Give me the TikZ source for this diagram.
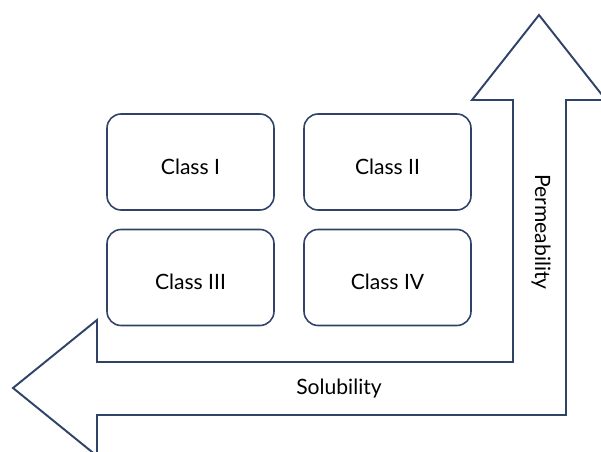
\documentclass[tikz,border=0pt]{standalone}
\usepackage{fontspec}
\setmainfont{Lato}
\definecolor{rahmen}{HTML}{2F4268}
\begin{document}
\begin{tikzpicture}[x=0.02cm, y=-0.02cm,
	klasse/.style={draw=rahmen, line width=0.9pt, rounded corners=8pt, minimum width=3.34cm, minimum height=1.92cm, text height=14pt, text depth=0pt, font=\fontsize{12}{14}\selectfont},
	schrift/.style={font=\fontsize{12}{14}\selectfont}]
	\useasboundingbox (0,0) rectangle (601,452);
	\clip (0,0) rectangle (601,452);
	% Winkelpfeil
	\draw[rahmen, line width=1.1pt, line join=miter] (13,388) -- (97,320) -- (97,362) -- (513,362) -- (513,100) -- (472,100) -- (539,15) -- (606,100) -- (566,100) -- (566,415) -- (97,415) -- (97,456) -- cycle;
	% Klassen
	\node[klasse] (k1) at (190.5,162) {Class I};
	\node[klasse] (k2) at (387.5,162) {Class II};
	\node[klasse] (k3) at (190.5,277.5) {Class III};
	\node[klasse] (k4) at (387.5,277.5) {Class IV};
	% Beschriftung
	\node[schrift] (sol) at (339,389) {Solubility};
	\node[schrift, rotate=-90] (perm) at (541,232) {Permeability};
\end{tikzpicture}
\end{document}
